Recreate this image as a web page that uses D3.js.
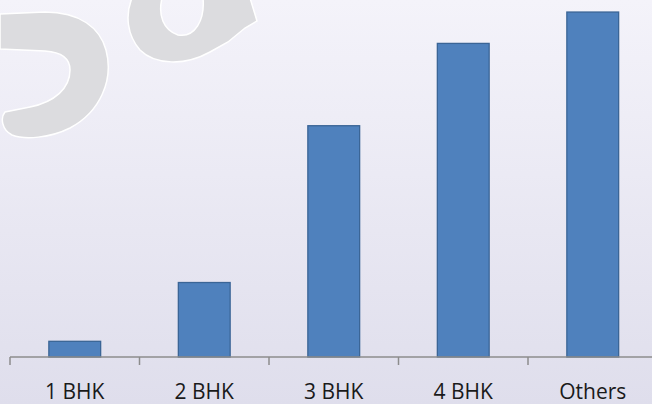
<!DOCTYPE html>
<html><head><meta charset="utf-8">
<script src="https://cdn.jsdelivr.net/npm/d3@7"></script>
<style>html,body{margin:0;padding:0;background:#fff;}svg{display:block;}</style>
</head><body>
<svg id="c" width="652" height="404"></svg>
<script>
const categories = ["1 BHK", "2 BHK", "3 BHK", "4 BHK", "Others"];
const values = [1.6, 7.6, 23.6, 32.0, 35.2];
const yMax = 36;

const W = 652, H = 404;
const svg = d3.select("#c");
const defs = svg.append("defs");
const grad = defs.append("linearGradient").attr("id","bg").attr("x1",0).attr("y1",0).attr("x2",0).attr("y2",1);
grad.append("stop").attr("offset","0%").attr("stop-color","#F4F3FA");
grad.append("stop").attr("offset","100%").attr("stop-color","#DFDEEC");
svg.append("rect").attr("width",W).attr("height",H).attr("fill","url(#bg)");

// watermark fragments
const wm = svg.append("g").attr("fill","#DCDCDF").attr("stroke","#FFFFFF").attr("stroke-width",1.5).attr("fill-rule","evenodd");
wm.append("path").attr("d","M0,14 L45,12 C80,12 100,28 106,50 C114,80 100,112 70,128 C50,138 25,140 12,135 C2,130 0,118 5,112 L30,107 C55,102 70,88 70,70 C70,58 60,52 45,51 L0,49 Z");
wm.append("path").attr("d","M132,-2 C125,15 127,35 140,50 C155,65 185,66 210,52 L228,42 L245,28 L257,21 L250,-2 Z M162,-2 C158,15 163,30 178,35 C195,38 205,20 203,-2 Z");

const baseY = 357;
const x = d3.scaleBand().domain(categories).range([10, 657.5]).paddingInner(0.6).paddingOuter(0.3);
const y = d3.scaleLinear().domain([0, yMax]).range([baseY, baseY - 36 * 9.8]);

svg.append("g").selectAll("rect").data(values).join("rect")
  .attr("x", (d,i) => x(categories[i]))
  .attr("y", d => y(d))
  .attr("width", x.bandwidth())
  .attr("height", d => baseY - y(d))
  .attr("fill", "#4F81BD")
  .attr("stroke", "#3B6596")
  .attr("stroke-width", 1.3);

// axis with ticks at band boundaries
const step = x.step();
const x0 = 10;
const ax = svg.append("g").attr("stroke","#8C8C8C").attr("stroke-width",1.5);
ax.append("line").attr("x1",x0).attr("x2",W).attr("y1",baseY).attr("y2",baseY);
d3.range(categories.length + 1).forEach(i => {
  const tx = x0 + i * step;
  ax.append("line").attr("x1",tx).attr("x2",tx).attr("y1",baseY).attr("y2",baseY+8);
});

svg.append("g").selectAll("text").data(categories).join("text")
  .attr("x", d => x(d) + x.bandwidth()/2)
  .attr("y", 399)
  .attr("text-anchor","middle")
  .attr("font-family","'Open Sans', sans-serif")
  .attr("font-size", 21)
  .attr("fill","#1A1A1A")
  .text(d => d);
</script>
</body></html>
